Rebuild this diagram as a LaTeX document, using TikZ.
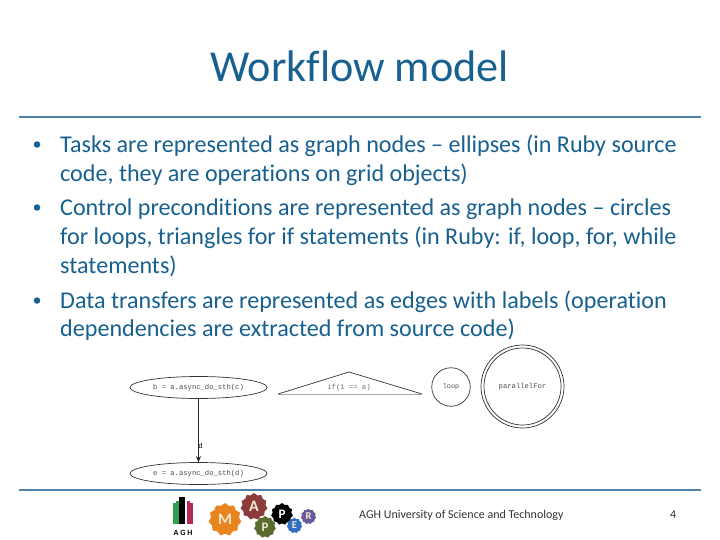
\documentclass[tikz,border=0pt]{standalone}
\usepackage{fontspec}
\usepackage{xcolor}
\usetikzlibrary{shapes.geometric,arrows.meta}
\setmainfont[Ligatures=NoCommon]{Carlito}
\newfontfamily\graphfont{Liberation Mono}
\definecolor{slidetext}{HTML}{17608F}
\definecolor{slideline}{HTML}{4F81A8}
\definecolor{gearorange}{HTML}{E8851E}
\definecolor{gearred}{HTML}{8C3B3B}
\definecolor{geargreen}{HTML}{5A6B2F}
\definecolor{gearblue}{HTML}{2F6FC0}
\definecolor{gearviolet}{HTML}{6A5A9A}
\definecolor{gearletter}{HTML}{F5E8D0}
\definecolor{aghgreen}{HTML}{2E9E4F}
\definecolor{aghred}{HTML}{B5285A}
\tikzset{
	title/.style={text=slidetext,font=\fontsize{44.2}{44.2}\selectfont,inner sep=0pt},
	bodyline/.style={anchor=base west,text=slidetext,font=\fontsize{24.1}{24.1}\selectfont,inner sep=0pt},
	bullet/.style={circle,fill=slidetext,inner sep=0pt,minimum size=6.5pt},
	rulebar/.style={draw=slideline,line width=1.5pt},
	footer/.style={anchor=base west,text=black!80,font=\fontsize{12}{12}\selectfont,inner sep=0pt},
	task/.style={ellipse,draw=black!80,line width=0.7pt,minimum width=137pt,minimum height=22pt,inner sep=0pt,text=black!70,font=\graphfont\fontsize{7.2}{7.2}\selectfont},
	ctrl/.style={circle,draw=black!80,line width=0.7pt,inner sep=0pt,text=black!70,font=\graphfont\fontsize{7.2}{7.2}\selectfont},
	gear/.style={star,star points=11,star point ratio=1.16,minimum size=#1,inner sep=0pt,text=gearletter,font=\bfseries\fontsize{16}{16}\selectfont},
	agh/.style={line width=2.6pt}
}
\begin{document}
\begin{tikzpicture}[x=1pt,y=-1pt]
	\useasboundingbox (0,0) rectangle (720,540);
	\node[title] at (359.5,66) (head) {Workflow model};
	\coordinate (r1a) at (19,117);
	\coordinate (r1b) at (701,117);
	\coordinate (r2a) at (19,490);
	\coordinate (r2b) at (701,490);
	\draw[rulebar] (r1a) -- (r1b);
	\draw[rulebar] (r2a) -- (r2b);
	% bullets
	\node[bullet] at (37,144.5) (b1) {};
	\node[bullet] at (37,207.5) (b2) {};
	\node[bullet] at (37,300.5) (b3) {};
	\node[bodyline] at (60,152.7) (l1) {Tasks are represented as graph nodes -- ellipses (in Ruby source};
	\node[bodyline] at (60,181.7) (l2) {code, they are operations on grid objects)};
	\node[bodyline] at (60,215) (l3) {Control preconditions are represented as graph nodes -- circles};
	\node[bodyline] at (60,244) (l4) {for loops, triangles for if statements (in Ruby: if, loop, for, while};
	\node[bodyline] at (60,273) (l5) {statements)};
	\node[bodyline] at (60,308) (l6) {Data transfers are represented as edges with labels (operation};
	\node[bodyline] at (60,336) (l7) {dependencies are extracted from source code)};
	% graph
	\node[task] at (198.5,387.5) (t1) {b = a.async\_do\_sth(c)};
	\node[task] at (198.5,473.5) (t2) {e = a.async\_do\_sth(d)};
	\draw[-{Stealth[length=6pt,width=5pt]},black!85,line width=0.7pt] (t1) -- (t2) node[pos=0.75,right,inner sep=0pt,xshift=-0.5pt,text=black,font=\graphfont\fontsize{7.2}{7.2}\selectfont] (d) {d};
	\coordinate (ta) at (349,372);
	\coordinate (tb) at (278,394);
	\coordinate (tc) at (422,394);
	\draw[black!80,line width=0.7pt] (tb) -- (ta) -- (tc);
	\draw[black!35,line width=0.7pt] (tb) -- (tc);
	\node[text=black!55,inner sep=0pt,font=\graphfont\fontsize{7.2}{7.2}\selectfont] at (349,387.5) (cond) {if(1 == a)};
	\node[ctrl,minimum size=38.5pt] at (451,387) (lp) {\fontsize{6.8}{6.8}\selectfont loop};
	\node[ctrl,minimum size=83pt] at (522.5,386.5) (pf) {};
	\node[ctrl,minimum size=77pt] at (522.5,386.5) (pfi) {parallelFor};
	% logos
	\foreach \x/\t/\c in {174.5/503/aghgreen,177.5/501/aghgreen,180.7/497/black,183.7/497/black,188.5/501/aghred,191.5/503/aghred}
		\draw[agh,draw=\c] (\x,\t) -- (\x,524);
	\node[inner sep=0pt,font=\bfseries\fontsize{8}{8}\selectfont] at (183,533) (aghname) {A G H};
	\node[gear=33pt,fill=gearorange] at (225,519.5) (gm) {M};
	\node[gear=27pt,fill=gearred] at (254,506.5) (ga) {A};
	\node[gear=22pt,fill=geargreen] at (265,527) (gp) {\fontsize{13}{13}\selectfont P};
	\node[gear=22pt,fill=black] at (282,514) (gp2) {\color{white}\fontsize{13}{13}\selectfont P};
	\node[gear=15.5pt,fill=gearblue] at (294.5,525.5) (ge) {\fontsize{10.5}{10.5}\selectfont E};
	\node[gear=15.5pt,fill=gearviolet] at (308.5,516.5) (gr) {\fontsize{10.5}{10.5}\selectfont R};
	% footer
	\node[footer] at (359,518) (uni) {AGH University of Science and Technology};
	\node[footer] at (670,518) (page) {4};
\end{tikzpicture}
\end{document}
